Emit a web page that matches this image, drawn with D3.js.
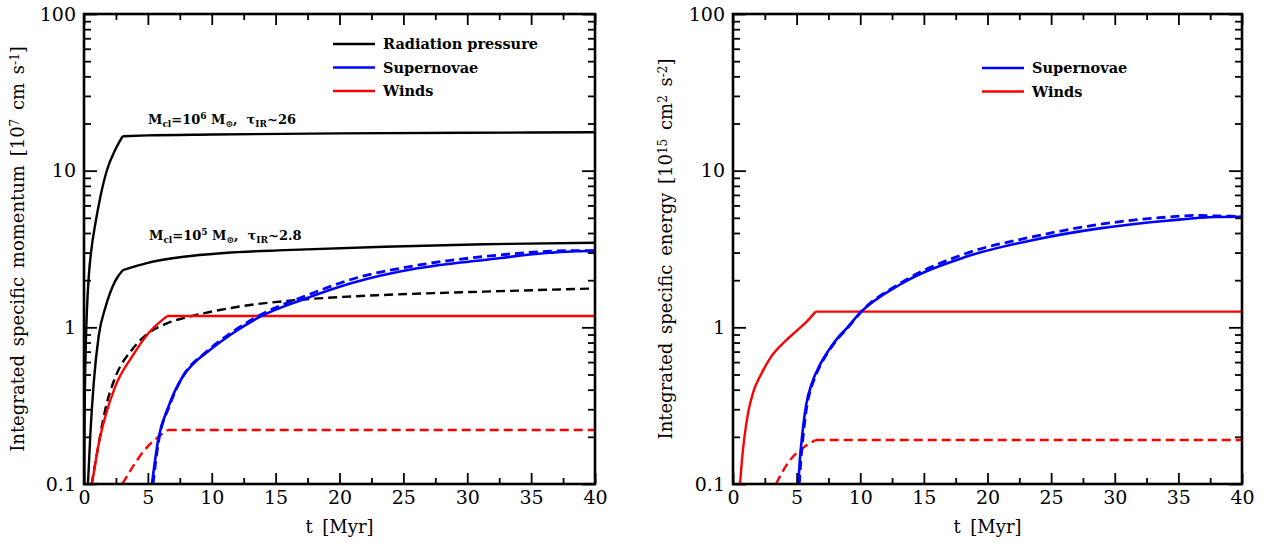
<!DOCTYPE html>
<html><head><meta charset="utf-8">
<script src="https://cdn.jsdelivr.net/npm/d3@7"></script>
<style>body{margin:0;background:#fff}svg{display:block}</style>
</head><body>
<svg id="c" width="1266" height="548"></svg>
<script>
// ---- tick values / labels ----
const xTicks = [0, 5, 10, 15, 20, 25, 30, 35, 40];
const xMinorTicks = [2.5, 7.5, 12.5, 17.5, 22.5, 27.5, 32.5, 37.5];
const yTickVals = [0.1, 1, 10, 100];
const yTickLabels = ["0.1", "1", "10", "100"];

// ---- left panel: integrated specific momentum [1e7 cm/s] ----
const radHigh = [[0.02,0.1],[0.05,0.27],[0.1,0.55],[0.15,0.83],[0.23,1.29],[0.37,2.1],[0.57,3.1],[0.89,4.6],[1.28,6.8],[1.8,10.1],[2.45,13.6],[3.03,16.6],[5,16.8],[10,17.0],[20,17.3],[30,17.45],[40,17.6]];
const radLow = [[0.31,0.1],[0.5,0.21],[0.76,0.44],[1.15,0.88],[1.7,1.36],[2.45,1.98],[3.05,2.32],[5,2.58],[7.8,2.82],[11,2.98],[15.7,3.11],[23.5,3.27],[31.3,3.39],[40,3.47]];
const radLowDash = [[0.6,0.1],[1.07,0.166],[1.67,0.3],[2.45,0.48],[3.76,0.72],[5.06,0.92],[6.5,1.06],[7.7,1.14],[8.6,1.19],[10.4,1.28],[12.5,1.37],[15.7,1.47],[20,1.56],[23.5,1.61],[31.3,1.69],[40,1.77]];
const snMom = [[5.32,0.1],[5.8,0.19],[6.6,0.31],[7.7,0.48],[8.6,0.59],[9.6,0.69],[11.5,0.9],[13.8,1.17],[17.2,1.51],[20.9,1.91],[26.1,2.38],[31.3,2.69],[36.5,2.99],[38.6,3.06],[40,3.07]];
const snMomDash = [[5.4,0.1],[5.85,0.19],[6.65,0.31],[7.7,0.48],[9.6,0.7],[11.5,0.92],[13.8,1.2],[17.2,1.57],[20.9,2.02],[26.1,2.49],[31.3,2.83],[36.5,3.06],[38.6,3.09],[40,3.08]];
const windMom = [[0.62,0.1],[0.76,0.117],[1.15,0.18],[1.67,0.27],[2.45,0.42],[3.76,0.65],[5.06,0.92],[6.5,1.18],[40,1.18]];
const windMomDash = [[3.0,0.1],[3.8,0.128],[4.54,0.157],[5.8,0.2],[6.55,0.221],[40,0.221]];

// ---- right panel: integrated specific energy [1e15 cm^2/s^2] ----
const snEn = [[5.13,0.1],[5.25,0.141],[5.45,0.209],[5.75,0.32],[6.2,0.44],[6.8,0.57],[7.5,0.71],[8.2,0.85],[9,1.0],[10,1.24],[13.1,1.87],[18.3,2.82],[23.6,3.61],[28.8,4.28],[34.1,4.79],[38,5.06],[40,5.08]];
const snEnDash = [[5.21,0.1],[5.33,0.141],[5.53,0.209],[5.82,0.32],[6.27,0.44],[6.86,0.57],[7.55,0.71],[8.25,0.85],[9.05,1.0],[10,1.24],[13.1,1.9],[18.3,2.96],[23.6,3.79],[28.8,4.54],[34.1,5.05],[36.5,5.18],[38,5.14],[40,5.1]];
const windEn = [[0.55,0.1],[0.7,0.141],[0.9,0.2],[1.2,0.288],[1.6,0.389],[2.2,0.5],[3,0.65],[4,0.8],[5,0.95],[5.75,1.08],[6.5,1.26],[40,1.26]];
const windEnDash = [[3.38,0.1],[3.9,0.12],[4.48,0.142],[5.5,0.17],[6.5,0.191],[40,0.191]];

const svg = d3.select("#c");
const SERIF = "'DejaVu Serif', 'Liberation Serif', serif";
const BLACK = "#000", BLUE = "#0000ff", RED = "#ff0000";

function yMinorVals() {
  const out = [];
  for (const d of [0.1, 1, 10]) for (let m = 2; m <= 9; m++) out.push(+(m * d).toPrecision(3));
  return out;
}

function drawPanel(cfg) {
  const x = d3.scaleLinear().domain([0, 40]).range([cfg.x0, cfg.x1]);
  const y = d3.scaleLog().domain([0.1, 100]).range([cfg.y1, cfg.y0]);
  const g = svg.append("g");
  const clipId = "clip" + cfg.id;
  svg.append("defs").append("clipPath").attr("id", clipId)
    .append("rect").attr("x", cfg.x0).attr("y", cfg.y0)
    .attr("width", cfg.x1 - cfg.x0).attr("height", cfg.y1 - cfg.y0);

  const line = d3.line().x(d => x(d[0])).y(d => y(d[1])).curve(d3.curveMonotoneX);
  const curves = g.append("g").attr("clip-path", `url(#${clipId})`);
  cfg.series.forEach(s => {
    const pieces = s.knee == null ? [s.data]
      : [s.data.filter(d => d[0] <= s.knee), s.data.filter(d => d[0] >= s.knee)];
    const d = pieces.map(p => line(p)).join("");
    curves.append("path").attr("d", d)
      .attr("fill", "none").attr("stroke", s.color)
      .attr("stroke-width", s.width || 2.4)
      .attr("stroke-dasharray", s.dash ? "9,5" : null)
      .attr("stroke-linejoin", "miter");
  });

  const styleAxis = sel => {
    sel.select(".domain").remove();
    sel.selectAll(".tick line").attr("stroke", "#000").attr("stroke-width", 1.8);
    sel.selectAll(".tick text").attr("font-family", SERIF).attr("font-size", 19).attr("fill", "#000");
  };
  g.append("g").attr("transform", `translate(0,${cfg.y1})`)
    .call(d3.axisBottom(x).tickValues(xTicks).tickFormat(d3.format("d")).tickSize(-11).tickPadding(7)).call(styleAxis);
  g.append("g").attr("transform", `translate(0,${cfg.y1})`)
    .call(d3.axisBottom(x).tickValues(xMinorTicks).tickFormat("").tickSize(-6)).call(styleAxis);
  g.append("g").attr("transform", `translate(0,${cfg.y0})`)
    .call(d3.axisTop(x).tickValues(xTicks).tickFormat("").tickSize(-11)).call(styleAxis);
  g.append("g").attr("transform", `translate(0,${cfg.y0})`)
    .call(d3.axisTop(x).tickValues(xMinorTicks).tickFormat("").tickSize(-6)).call(styleAxis);
  g.append("g").attr("transform", `translate(${cfg.x0},0)`)
    .call(d3.axisLeft(y).tickValues(yTickVals).tickFormat((d, i) => yTickLabels[i]).tickSize(-13).tickPadding(8)).call(styleAxis);
  g.append("g").attr("transform", `translate(${cfg.x0},0)`)
    .call(d3.axisLeft(y).tickValues(yMinorVals()).tickFormat("").tickSize(-7)).call(styleAxis);
  g.append("g").attr("transform", `translate(${cfg.x1},0)`)
    .call(d3.axisRight(y).tickValues(yTickVals).tickFormat("").tickSize(-13)).call(styleAxis);
  g.append("g").attr("transform", `translate(${cfg.x1},0)`)
    .call(d3.axisRight(y).tickValues(yMinorVals()).tickFormat("").tickSize(-7)).call(styleAxis);

  g.append("rect").attr("x", cfg.x0).attr("y", cfg.y0)
    .attr("width", cfg.x1 - cfg.x0).attr("height", cfg.y1 - cfg.y0)
    .attr("fill", "none").attr("stroke", "#000").attr("stroke-width", 2.6);

  g.append("text").attr("x", (cfg.x0 + cfg.x1) / 2).attr("y", 533)
    .attr("text-anchor", "middle").attr("font-family", SERIF).attr("font-size", 18)
    .attr("word-spacing", 4).text("t [Myr]");

  const yl = g.append("text").attr("transform", `translate(${cfg.ylabX},${(cfg.y0 + cfg.y1) / 2}) rotate(-90)`)
    .attr("text-anchor", "middle").attr("font-family", SERIF).attr("font-size", 18).attr("word-spacing", 3);
  cfg.ylab.forEach(p => {
    const t = yl.append("tspan").text(p.t);
    if (p.sup) t.attr("font-size", 12).attr("baseline-shift", "45%");
  });

  cfg.legend.forEach((L, i) => {
    const ly = cfg.legY + i * 23.5;
    g.append("line").attr("x1", cfg.legX).attr("x2", cfg.legX + 42).attr("y1", ly).attr("y2", ly)
      .attr("stroke", L.color).attr("stroke-width", 2.4);
    g.append("text").attr("x", cfg.legX + 50).attr("y", ly + 5).attr("font-family", SERIF)
      .attr("font-weight", "bold").attr("font-size", 14.5).text(L.label);
  });
  return {x, y, g};
}

function annot(g, xPos, yPos, exp, tau) {
  const t = g.append("text").attr("x", xPos).attr("y", yPos).attr("font-family", SERIF)
    .attr("font-weight", "bold").attr("font-size", 13);
  const parts = [
    {t: "M"}, {t: "cl", sub: true}, {t: "=10"}, {t: exp, sup: true},
    {t: "\u00a0M"}, {t: "\u2299", sub: true}, {t: ",\u00a0\u00a0\u03c4"}, {t: "IR", sub: true}, {t: "~" + tau}
  ];
  parts.forEach(p => {
    const s = t.append("tspan").text(p.t);
    if (p.sub) s.attr("font-size", 9).attr("baseline-shift", "-30%");
    if (p.sup) s.attr("font-size", 9).attr("baseline-shift", "55%");
  });
}

const left = drawPanel({
  id: "L", x0: 84, x1: 595, y0: 14, y1: 484, ylabX: 24,
  ylab: [{t: "Integrated specific momentum [10"}, {t: "7", sup: true}, {t: " cm s"}, {t: "-1", sup: true}, {t: "]"}],
  legX: 333, legY: 44,
  legend: [{label: "Radiation pressure", color: BLACK}, {label: "Supernovae", color: BLUE}, {label: "Winds", color: RED}],
  series: [
    {data: radHigh, color: BLACK, knee: 3.03},
    {data: radLow, color: BLACK, knee: 3.05},
    {data: radLowDash, color: BLACK, dash: true},
    {data: windMomDash, color: RED, dash: true, knee: 6.55},
    {data: windMom, color: RED, knee: 6.5},
    {data: snMomDash, color: BLUE, dash: true, width: 2.8},
    {data: snMom, color: BLUE, width: 2.6}
  ]
});
annot(left.g, 148, 124, "6", "26");
annot(left.g, 149, 240, "5", "2.8");

drawPanel({
  id: "R", x0: 733, x1: 1242, y0: 14, y1: 484, ylabX: 672,
  ylab: [{t: "Integrated specific energy [10"}, {t: "15", sup: true}, {t: " cm"}, {t: "2", sup: true}, {t: " s"}, {t: "-2", sup: true}, {t: "]"}],
  legX: 982, legY: 68,
  legend: [{label: "Supernovae", color: BLUE}, {label: "Winds", color: RED}],
  series: [
    {data: windEnDash, color: RED, dash: true, knee: 6.5},
    {data: windEn, color: RED, knee: 6.5},
    {data: snEnDash, color: BLUE, dash: true, width: 2.8},
    {data: snEn, color: BLUE, width: 2.6}
  ]
});
</script>
</body></html>
